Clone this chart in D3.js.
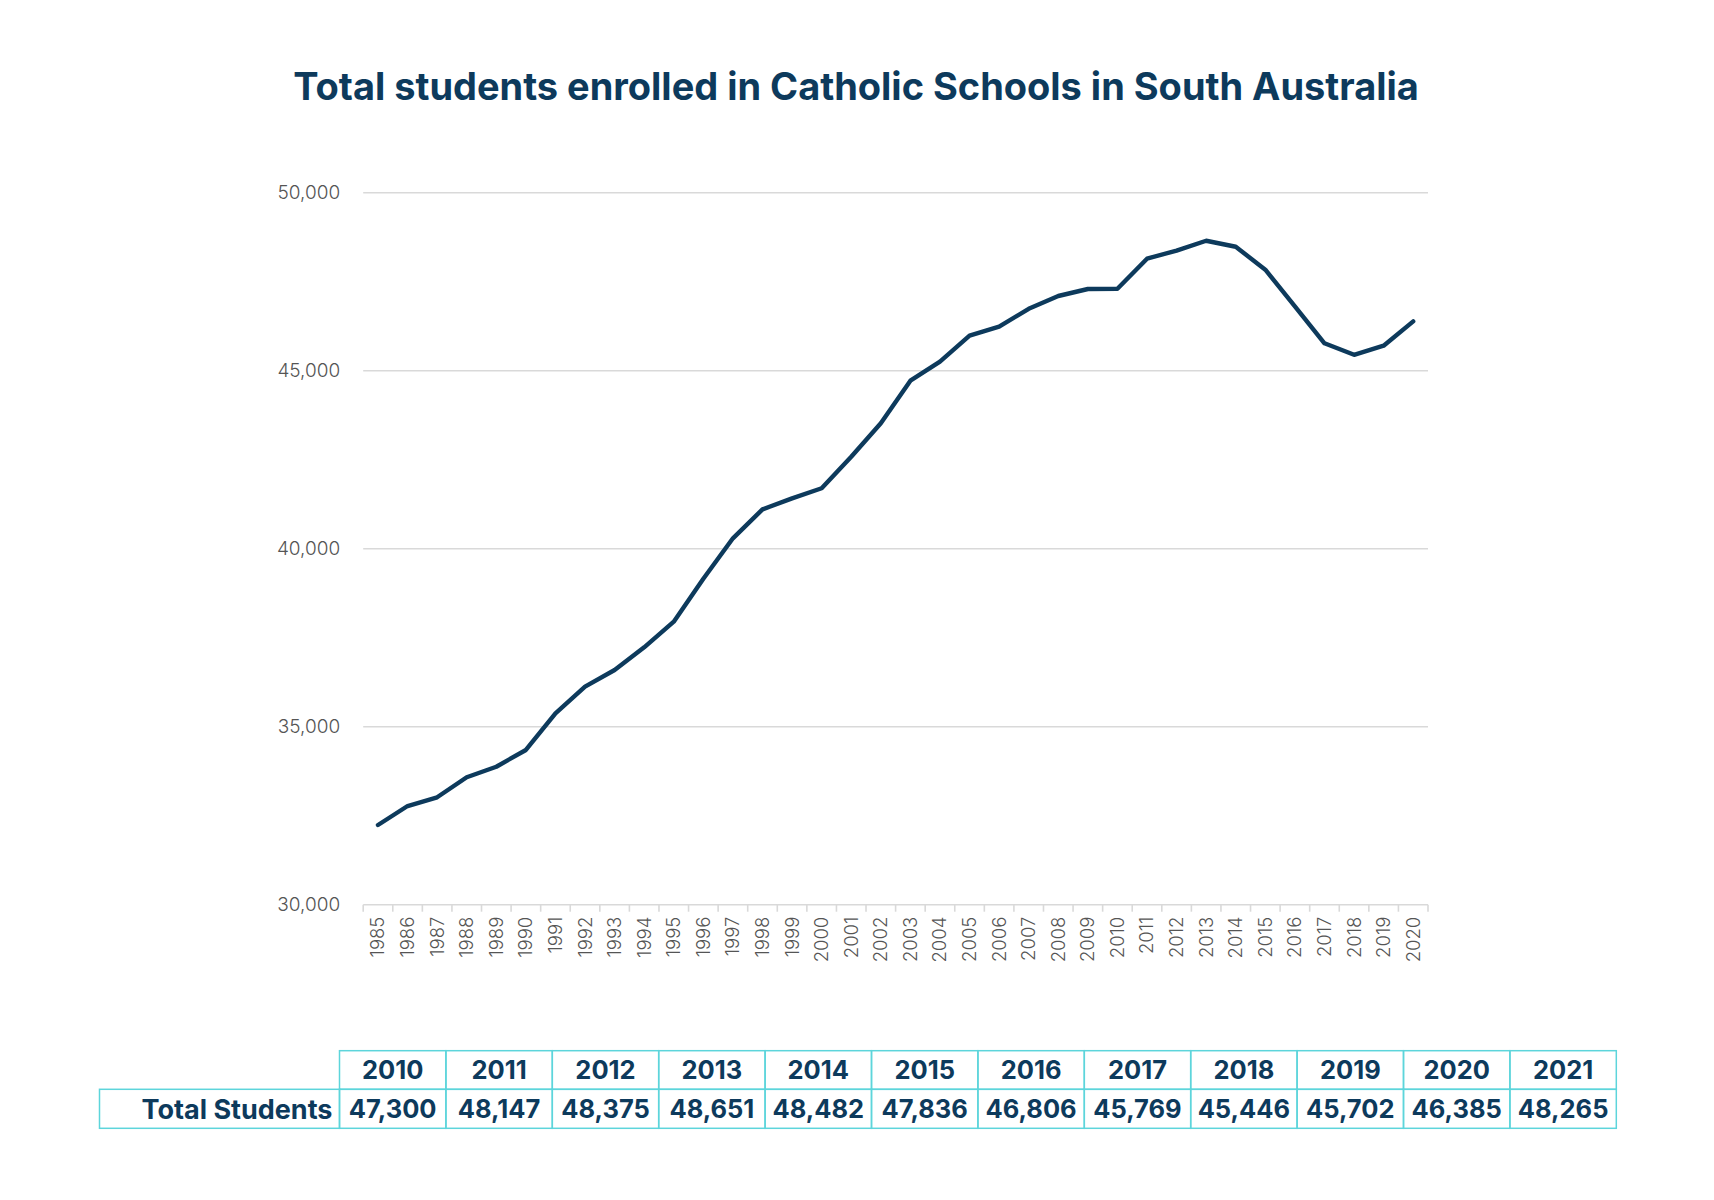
<!DOCTYPE html>
<html>
<head>
<meta charset="utf-8">
<script src="https://cdn.jsdelivr.net/npm/d3@7"></script>
<style>
  html, body { margin: 0; padding: 0; background: #ffffff; }
  svg { display: block; }
</style>
</head>
<body>
<div id="chart"></div>
<script>
// ---------- DATA ----------
const years = ["1985","1986","1987","1988","1989","1990","1991","1992","1993","1994","1995","1996",
  "1997","1998","1999","2000","2001","2002","2003","2004","2005","2006","2007","2008",
  "2009","2010","2011","2012","2013","2014","2015","2016","2017","2018","2019","2020"];
const students = [32239, 32772, 33017, 33579, 33876, 34346, 35376, 36124, 36593, 37230, 37950, 39157,
  40292, 41106, 41415, 41697, 42584, 43523, 44719, 45253, 45983, 46236, 46740, 47098,
  47295, 47300, 48147, 48375, 48651, 48482, 47836, 46806, 45769, 45446, 45702, 46385];
const yTicks = [30000, 35000, 40000, 45000, 50000];
const tableYears = ["2010","2011","2012","2013","2014","2015","2016","2017","2018","2019","2020","2021"];
const tableValues = [47300, 48147, 48375, 48651, 48482, 47836, 46806, 45769, 45446, 45702, 46385, 48265];
const tableRowLabel = "Total Students";
const titleText = "Total students enrolled in Catholic Schools in South Australia";

// ---------- LAYOUT ----------
const W = 1714, H = 1200;
const navy = "#0d3a5c";
const grey = "#555555";
const gridCol = "#d9d9d9";
const tableBorder = "#5dd5db";

const svg = d3.select("#chart").append("svg")
  .attr("width", W).attr("height", H)
  .attr("viewBox", `0 0 ${W} ${H}`);
svg.append("rect").attr("width", W).attr("height", H).attr("fill", "#ffffff");

// Title
const title = svg.append("text")
  .attr("x", 856).attr("y", 100)
  .attr("text-anchor", "middle")
  .attr("font-family", "Inter, Roboto, sans-serif")
  .attr("font-weight", 700)
  .attr("font-size", 36)
  .attr("fill", navy)
  .text(titleText);
{
  const target = 1126;
  const len = title.node().getComputedTextLength();
  if (len > 0) title.attr("font-size", 36 * target / len);
}

// Scales
const x = d3.scaleBand().domain(years).range([363.2, 1428]).padding(0);
const y = d3.scaleLinear().domain([30000, 50000]).range([904.7, 192.7]);

// Gridlines
svg.append("g").selectAll("line")
  .data(yTicks.filter(d => d !== 30000))
  .join("line")
  .attr("x1", x.range()[0]).attr("x2", x.range()[1])
  .attr("y1", d => y(d)).attr("y2", d => y(d))
  .attr("stroke", gridCol).attr("stroke-width", 1.6);

// Y axis labels
const yAxis = svg.append("g")
  .attr("transform", `translate(${x.range()[0]},0)`)
  .call(d3.axisLeft(y).tickValues(yTicks).tickSize(0).tickPadding(23)
    .tickFormat(d3.format(",")));
yAxis.select(".domain").remove();
yAxis.selectAll("text")
  .attr("font-family", "Inter, Lato, sans-serif")
  .attr("font-weight", 300)
  .attr("font-size", 19)
  .attr("fill", grey);

// X axis: baseline, boundary ticks, rotated labels
const xAxisY = y(30000);
const gx = svg.append("g");
gx.append("line")
  .attr("x1", x.range()[0]).attr("x2", x.range()[1])
  .attr("y1", xAxisY).attr("y2", xAxisY)
  .attr("stroke", gridCol).attr("stroke-width", 1.6);
const boundaries = years.map(d => x(d)).concat([x.range()[1]]);
gx.selectAll("line.tick")
  .data(boundaries)
  .join("line")
  .attr("class", "tick")
  .attr("x1", d => d).attr("x2", d => d)
  .attr("y1", xAxisY).attr("y2", xAxisY + 7)
  .attr("stroke", gridCol).attr("stroke-width", 1.6);
gx.selectAll("text")
  .data(years)
  .join("text")
  .attr("transform", d => `translate(${x(d) + x.bandwidth() / 2},${xAxisY + 12}) rotate(-90)`)
  .attr("text-anchor", "end")
  .attr("dy", "0.35em")
  .attr("font-family", "Inter, Lato, sans-serif")
  .attr("font-weight", 300)
  .attr("font-size", 18.5)
  .attr("fill", grey)
  .text(d => d);

// Line
const line = d3.line()
  .x((d, i) => x(years[i]) + x.bandwidth() / 2)
  .y(d => y(d));
svg.append("path")
  .datum(students)
  .attr("d", line)
  .attr("fill", "none")
  .attr("stroke", navy)
  .attr("stroke-width", 4.4)
  .attr("stroke-linejoin", "round")
  .attr("stroke-linecap", "round");

// ---------- TABLE ----------
const tx = d3.scaleBand().domain(tableYears).range([339.5, 1616.3]).padding(0);
const row1Top = 1050.7, row1Bot = 1089.3, row2Bot = 1128.3;
const labelLeft = 99.5;
const tbl = svg.append("g");
const tableFont = "Inter, Roboto, sans-serif";
const tableSize = 25.5;

tbl.selectAll("rect.h")
  .data(tableYears)
  .join("rect")
  .attr("class", "h")
  .attr("x", d => tx(d)).attr("y", row1Top)
  .attr("width", tx.bandwidth()).attr("height", row1Bot - row1Top)
  .attr("fill", "none").attr("stroke", tableBorder).attr("stroke-width", 1.5);
tbl.selectAll("rect.v")
  .data(tableYears)
  .join("rect")
  .attr("class", "v")
  .attr("x", d => tx(d)).attr("y", row1Bot)
  .attr("width", tx.bandwidth()).attr("height", row2Bot - row1Bot)
  .attr("fill", "none").attr("stroke", tableBorder).attr("stroke-width", 1.5);
tbl.append("rect")
  .attr("x", labelLeft).attr("y", row1Bot)
  .attr("width", tx.range()[0] - labelLeft).attr("height", row2Bot - row1Bot)
  .attr("fill", "none").attr("stroke", tableBorder).attr("stroke-width", 1.5);

tbl.selectAll("text.h")
  .data(tableYears)
  .join("text")
  .attr("class", "h")
  .attr("x", d => tx(d) + tx.bandwidth() / 2)
  .attr("y", (row1Top + row1Bot) / 2)
  .attr("dy", "0.36em")
  .attr("text-anchor", "middle")
  .attr("font-family", tableFont).attr("font-weight", 700).attr("font-size", tableSize)
  .attr("fill", navy)
  .text(d => d);
tbl.selectAll("text.v")
  .data(tableValues)
  .join("text")
  .attr("class", "v")
  .attr("x", (d, i) => tx(tableYears[i]) + tx.bandwidth() / 2)
  .attr("y", (row1Bot + row2Bot) / 2)
  .attr("dy", "0.36em")
  .attr("text-anchor", "middle")
  .attr("font-family", tableFont).attr("font-weight", 700).attr("font-size", tableSize)
  .attr("fill", navy)
  .text(d => d3.format(",")(d));
tbl.append("text")
  .attr("x", tx.range()[0] - 7)
  .attr("y", (row1Bot + row2Bot) / 2)
  .attr("dy", "0.36em")
  .attr("text-anchor", "end")
  .attr("font-family", tableFont).attr("font-weight", 700).attr("font-size", 27)
  .attr("fill", navy)
  .text(tableRowLabel);
</script>
</body>
</html>
